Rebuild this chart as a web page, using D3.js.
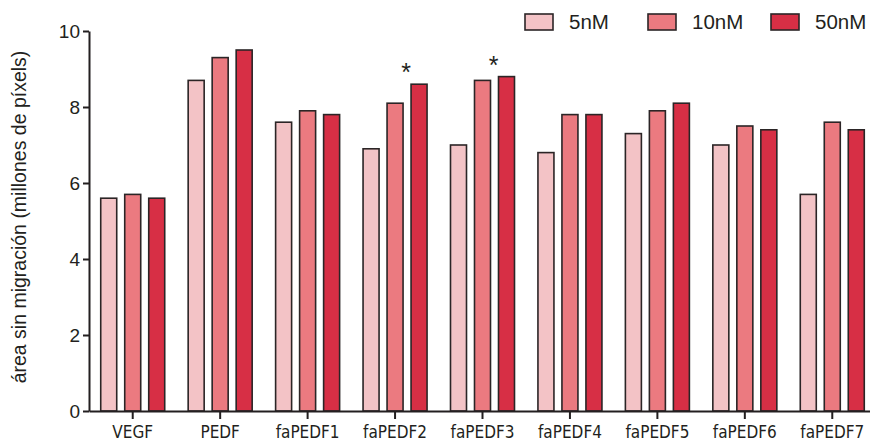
<!DOCTYPE html>
<html>
<head>
<meta charset="utf-8">
<script src="https://cdn.jsdelivr.net/npm/d3@7"></script>
<style>
  body { margin: 0; background: #fff; }
  svg text { font-family: "Liberation Sans", Arial, sans-serif; fill: #231f20; }
  .axis path, .axis line { stroke: #231f20; stroke-width: 2px; }
  .x-axis text { font-family: "Liberation Sans Narrow", "DejaVu Sans Condensed", sans-serif; }
</style>
</head>
<body>
<svg id="chart" width="870" height="443"></svg>
<script>
// data
const groups = ['VEGF', 'PEDF', 'faPEDF1', 'faPEDF2', 'faPEDF3', 'faPEDF4', 'faPEDF5', 'faPEDF6', 'faPEDF7'];
const series = ['5nM', '10nM', '50nM'];
const v5nM = [5.6, 8.7, 7.6, 6.9, 7.0, 6.8, 7.3, 7.0, 5.7];
const v10nM = [5.7, 9.3, 7.9, 8.1, 8.7, 7.8, 7.9, 7.5, 7.6];
const v50nM = [5.6, 9.5, 7.8, 8.6, 8.8, 7.8, 8.1, 7.4, 7.4];
const yTicks = [0, 2, 4, 6, 8, 10];
const starred = ['faPEDF2', 'faPEDF3'];

const colors = ['#f3c3c6', '#eb7a80', '#d72f45'];
const values = [v5nM, v10nM, v50nM];

const svg = d3.select('#chart');
const margin = {top: 31, left: 89, bottom: 32, right: -6};
const width = 870 - margin.left - margin.right;
const height = 443 - margin.top - margin.bottom;

const x = d3.scaleBand().domain(groups).range([margin.left, margin.left + width]);
const xs = d3.scaleBand().domain(series).range([-36, 36]).paddingInner(1 / 3).paddingOuter(1 / 6);
const y = d3.scaleLinear().domain([0, 10]).range([margin.top + height, margin.top]);
const color = d3.scaleOrdinal().domain(series).range(colors);

const rows = [];
groups.forEach((g, i) => {
    series.forEach((s, j) => rows.push({group: g, series: s, value: values[j][i]}));
});

// bars
svg.append('g')
    .selectAll('rect')
    .data(rows)
    .enter().append('rect')
    .attr('x', d => x(d.group) + x.bandwidth() / 2 + xs(d.series))
    .attr('y', d => y(d.value))
    .attr('width', xs.bandwidth())
    .attr('height', d => y(0) - y(d.value))
    .attr('fill', d => color(d.series))
    .attr('stroke', '#2b2526')
    .attr('stroke-width', 1.6);

// significance marks
svg.append('g')
    .selectAll('text')
    .data(starred)
    .enter().append('text')
    .attr('x', g => x(g) + x.bandwidth() / 2 + 11)
    .attr('y', g => y(d3.max(values, s => s[groups.indexOf(g)])) - 3)
    .attr('text-anchor', 'middle')
    .style('font-size', '25px')
    .text('*');

// y axis
const yAxis = svg.append('g')
    .attr('class', 'axis')
    .attr('transform', 'translate(' + margin.left + ',0)')
    .call(d3.axisLeft(y).tickValues(yTicks).tickSize(6).tickSizeOuter(0).tickPadding(3));
yAxis.selectAll('text').style('font-size', '19px');

// x axis
const xAxis = svg.append('g')
    .attr('class', 'axis x-axis')
    .attr('transform', 'translate(0,' + y(0) + ')')
    .call(d3.axisBottom(x).tickSize(8).tickSizeOuter(0).tickPadding(7));
xAxis.selectAll('text').style('font-size', '17px');

// y label
svg.append('text')
    .attr('transform', 'translate(26,' + (margin.top + height / 2 - 4) + ') rotate(-90)')
    .attr('text-anchor', 'middle')
    .style('font-size', '19.5px')
    .text('área sin migración (millones de píxels)');

// legend
const legend = svg.append('g')
    .selectAll('g')
    .data(series)
    .enter().append('g')
    .attr('transform', (d, i) => 'translate(' + (525 + i * 123) + ',14)');

legend.append('rect')
    .attr('width', 28)
    .attr('height', 16)
    .attr('fill', d => color(d))
    .attr('stroke', '#2b2526')
    .attr('stroke-width', 1.6);

legend.append('text')
    .attr('x', 44)
    .attr('y', 15)
    .style('font-size', '20.5px')
    .text(d => d);
</script>
</body>
</html>
